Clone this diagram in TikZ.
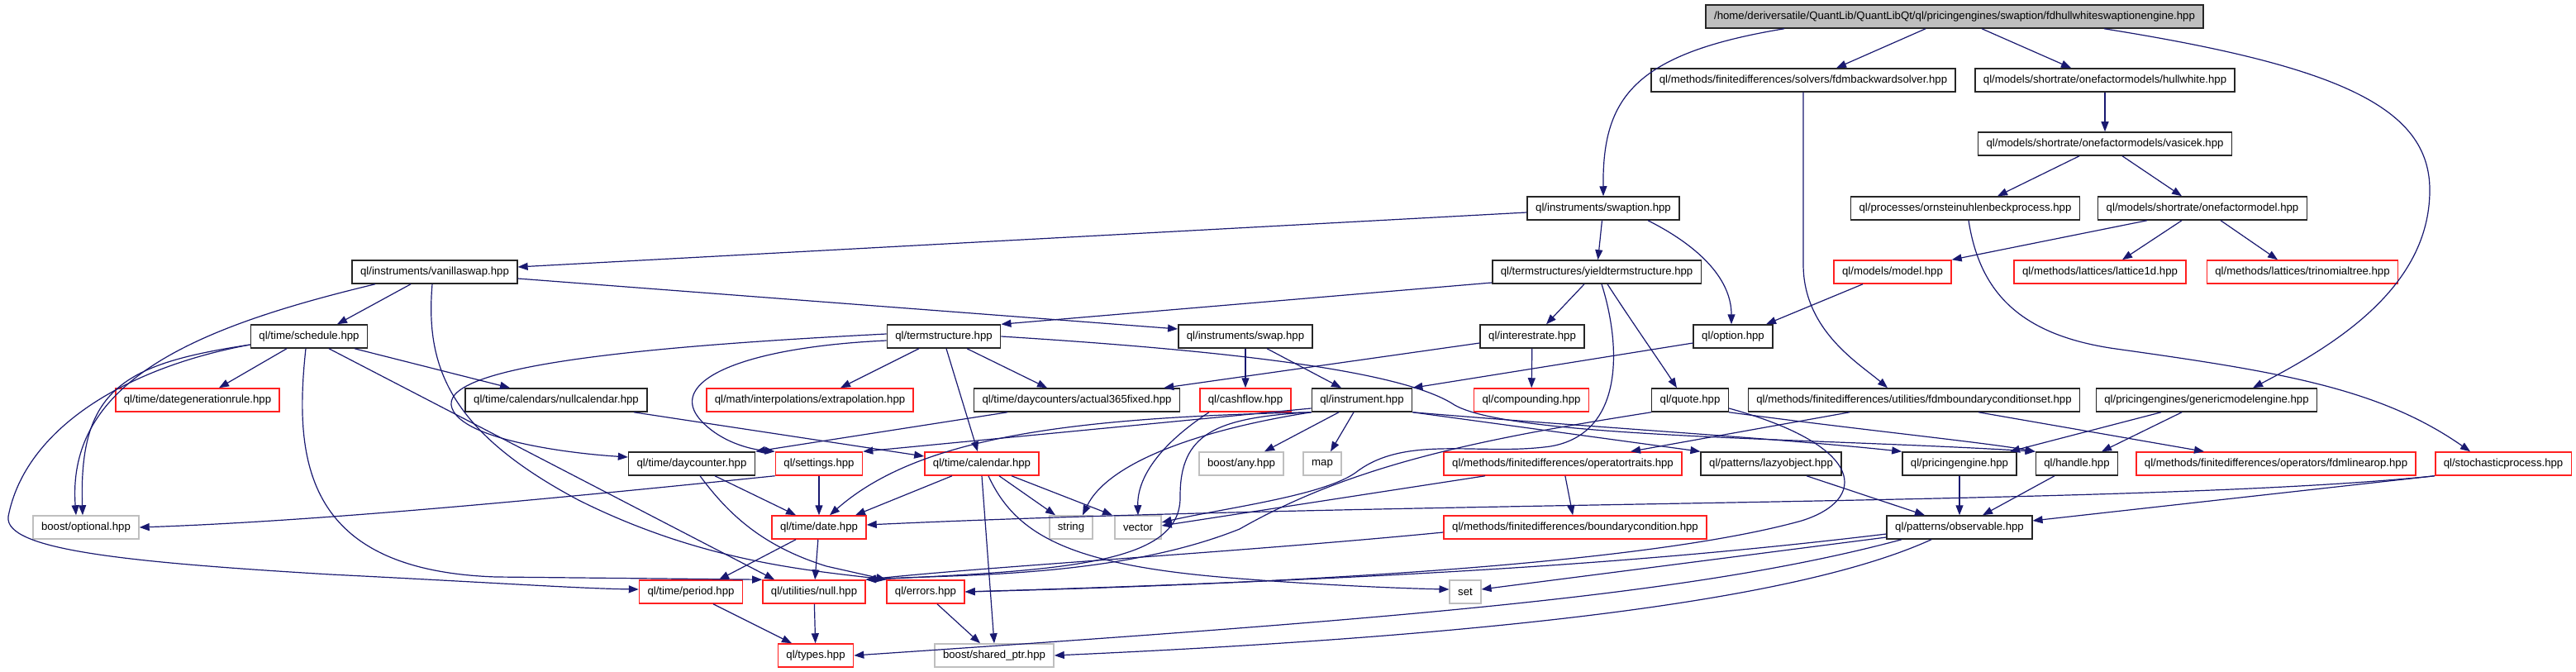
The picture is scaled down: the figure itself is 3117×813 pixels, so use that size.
\documentclass[tikz,border=0pt]{standalone}
\usepackage{fontspec}
\setmainfont{Liberation Sans}
\usepackage{xcolor}
\usetikzlibrary{arrows.meta}
\definecolor{edgeblue}{HTML}{191970}
\definecolor{missred}{HTML}{FF2020}
\definecolor{sysgray}{HTML}{BFBFBF}
\definecolor{rootgray}{HTML}{BFBFBF}

\begin{document}
\begin{tikzpicture}[
        x=1pt, y=-1pt,
        file/.style={rectangle, draw=black!85, line width=1.5pt, fill=white, text=black,
                     inner xsep=10pt, inner ysep=0pt, minimum height=28pt,
                     font=\fontsize{13.2}{15}\selectfont},
        redfile/.style={file, draw=missred},
        sysfile/.style={file, draw=sysgray},
        rootfile/.style={file, fill=rootgray},
        incl/.style={-{Triangle[length=12pt, width=9pt]}, line width=1.2pt, edgeblue}
      ]
        \useasboundingbox (0,0) rectangle (3117,813);

        % rows of files, top to bottom
        \node[rootfile] (root) at (2365,20) {/home/deriversatile/QuantLib/QuantLibQt/ql/pricingengines/swaption/fdhullwhiteswaptionengine.hpp};

        \node[file] (fdmbs) at (2182,97) {ql/methods/finitedifferences/solvers/fdmbackwardsolver.hpp};
        \node[file] (hullwhite) at (2547,97) {ql/models/shortrate/onefactormodels/hullwhite.hpp};

        \node[file] (vasicek) at (2547,174) {ql/models/shortrate/onefactormodels/vasicek.hpp};

        \node[file] (swaption) at (1940,252) {ql/instruments/swaption.hpp};
        \node[file] (ornstein) at (2378,252) {ql/processes/ornsteinuhlenbeckprocess.hpp};
        \node[file] (ofm) at (2665,252) {ql/models/shortrate/onefactormodel.hpp};

        \node[file] (vanillaswap) at (526,329) {ql/instruments/vanillaswap.hpp};
        \node[file] (yts) at (1932,329) {ql/termstructures/yieldtermstructure.hpp};
        \node[redfile] (model) at (2290,329) {ql/models/model.hpp};
        \node[redfile] (lattice) at (2541,329) {ql/methods/lattices/lattice1d.hpp};
        \node[redfile] (trinomial) at (2786,329) {ql/methods/lattices/trinomialtree.hpp};

        \node[file] (schedule) at (374,407) {ql/time/schedule.hpp};
        \node[file] (termstr) at (1142,407) {ql/termstructure.hpp};
        \node[file] (swap) at (1507,407) {ql/instruments/swap.hpp};
        \node[file] (interest) at (1854,407) {ql/interestrate.hpp};
        \node[file] (option) at (2097,407) {ql/option.hpp};

        \node[redfile] (dgr) at (239,484) {ql/time/dategenerationrule.hpp};
        \node[file] (nullcal) at (673,484) {ql/time/calendars/nullcalendar.hpp};
        \node[redfile] (extrap) at (980,484) {ql/math/interpolations/extrapolation.hpp};
        \node[file] (act365) at (1303,484) {ql/time/daycounters/actual365fixed.hpp};
        \node[redfile] (cashflow) at (1507,484) {ql/cashflow.hpp};
        \node[file] (instrument) at (1648,484) {ql/instrument.hpp};
        \node[redfile] (compounding) at (1853,484) {ql/compounding.hpp};
        \node[file] (quote) at (2045,484) {ql/quote.hpp};
        \node[file] (fdmbcs) at (2316,484) {ql/methods/finitedifferences/utilities/fdmboundaryconditionset.hpp};
        \node[file] (gme) at (2670,484) {ql/pricingengines/genericmodelengine.hpp};

        \node[file] (daycounter) at (837,561) {ql/time/daycounter.hpp};
        \node[redfile] (settings) at (991,561) {ql/settings.hpp};
        \node[redfile] (calendar) at (1188,561) {ql/time/calendar.hpp};
        \node[sysfile] (boostany) at (1502,561) {boost/any.hpp};
        \node[sysfile] (map) at (1600,561) {map};
        \node[redfile] (optraits) at (1891,561) {ql/methods/finitedifferences/operatortraits.hpp};
        \node[file] (lazy) at (2143,561) {ql/patterns/lazyobject.hpp};
        \node[file] (pengine) at (2371,561) {ql/pricingengine.hpp};
        \node[file] (handle) at (2513,561) {ql/handle.hpp};
        \node[redfile] (fdmlinop) at (2754,561) {ql/methods/finitedifferences/operators/fdmlinearop.hpp};
        \node[redfile] (stochproc) at (3029,561) {ql/stochasticprocess.hpp};

        \node[sysfile] (boostopt) at (104,638) {boost/optional.hpp};
        \node[redfile] (date) at (991,638) {ql/time/date.hpp};
        \node[sysfile] (string) at (1296,638) {string};
        \node[sysfile] (vector) at (1377,638) {vector};
        \node[redfile] (bcond) at (1906,638) {ql/methods/finitedifferences/boundarycondition.hpp};
        \node[file] (observable) at (2371,638) {ql/patterns/observable.hpp};

        \node[redfile] (period) at (836,716) {ql/time/period.hpp};
        \node[redfile] (null) at (985,716) {ql/utilities/null.hpp};
        \node[redfile] (errors) at (1120,716) {ql/errors.hpp};
        \node[sysfile] (set) at (1773,716) {set};

        \node[redfile] (types) at (987,793) {ql/types.hpp};
        \node[sysfile] (sharedptr) at (1203,793) {boost/shared\_ptr.hpp};

        % includes of the engine and the models
        \draw[incl] ([xshift=-206pt]root.south) .. controls (1975,65) and (1939,120) .. (swaption.north);
        \draw[incl] ([xshift=-35pt]root.south) -- ([xshift=40pt]fdmbs.north);
        \draw[incl] ([xshift=33pt]root.south) -- ([xshift=-41pt]hullwhite.north);
        \draw[incl] ([xshift=181pt]root.south) .. controls (2830,80) and (2940,130) .. (2940,230)
                    .. controls (2940,350) and (2820,420) .. ([xshift=56pt]gme.north);
        \draw[incl] (fdmbs.south) -- (2182,320) .. controls (2182,400) and (2250,440) .. ([xshift=-32pt]fdmbcs.north);
        \draw[incl] (hullwhite) -- (vasicek);
        \draw[incl] ([xshift=-31pt]vasicek.south) -- ([xshift=39pt]ornstein.north);
        \draw[incl] ([xshift=21pt]vasicek.south) -- ([xshift=-25pt]ofm.north);
        \draw[incl] ([xshift=4pt]ornstein.south) .. controls (2395,350) and (2440,405) .. (2560,422)
                    .. controls (2760,450) and (2880,470) .. ([xshift=-40pt]stochproc.north);
        \draw[incl] ([xshift=-67pt]ofm.south) -- (model.north east);
        \draw[incl] ([xshift=-25pt]ofm.south) -- ([xshift=27pt]lattice.north);
        \draw[incl] ([xshift=22pt]ofm.south) -- ([xshift=-30pt]trinomial.north);
        \draw[incl] ([xshift=-36pt]model.south) -- ([xshift=40pt]option.north);

        % instruments and term structures
        \draw[incl] ([yshift=-5pt]swaption.west) -- ([yshift=6pt]vanillaswap.east);
        \draw[incl] (swaption) -- (yts);
        \draw[incl] ([xshift=54pt]swaption.south) .. controls (2060,300) and (2095,340) .. ([xshift=-2pt]option.north);
        \draw[incl] ([yshift=-13pt]yts.west) -- (termstr.north east);
        \draw[incl] ([xshift=-15pt]yts.south) -- ([xshift=17pt]interest.north);
        \draw[incl] ([xshift=13pt]yts.south) .. controls (1975,390) and (2010,440) .. ([xshift=-16pt]quote.north);
        \draw[incl] ([xshift=6pt]yts.south) .. controls (1962,420) and (1965,525) .. (1876,540)
                    .. controls (1790,552) and (1700,525) .. (1640,572)
                    .. controls (1600,600) and (1480,615) .. ([yshift=6pt]vector.east);
        \draw[incl] ([xshift=-29pt]vanillaswap.south) -- ([xshift=34pt]schedule.north);
        \draw[incl] ([xshift=-72pt]vanillaswap.south) .. controls (240,395) and (80,460) .. ([xshift=-12pt]boostopt.north);
        \draw[incl] ([yshift=-8pt]vanillaswap.east) -- ([yshift=9pt]swap.west);
        \draw[incl] ([xshift=-3pt]vanillaswap.south) .. controls (515,440) and (540,520) .. (700,605)
                    .. controls (850,680) and (980,690) .. (errors.north west);

        % schedule and calendars
        \draw[incl] ([xshift=-27pt]schedule.south) -- ([xshift=26pt]dgr.north);
        \draw[incl] ([xshift=55pt]schedule.south) -- ([xshift=-56pt]nullcal.north);
        \draw[incl] ([yshift=-10pt]schedule.west) .. controls (150,440) and (95,470) .. ([xshift=-4pt]boostopt.north);
        \draw[incl] ([yshift=-10pt]schedule.west) .. controls (150,445) and (30,520) .. (10,625)
                    .. controls (5,665) and (150,680) .. (400,695)
                    .. controls (600,705) and (700,712) .. ([yshift=3pt]period.west);
        \draw[incl] ([xshift=-4pt]schedule.south) .. controls (355,560) and (370,690) .. (600,698)
                    -- (null.north west);
        \draw[incl] ([xshift=24pt]schedule.south) -- ([xshift=15pt]null.north west);
        \draw[incl] ([xshift=94pt]nullcal.south) -- ([yshift=9pt]calendar.west);

        % term structure
        \draw[incl] ([yshift=3pt]termstr.west) .. controls (800,418) and (540,440) .. (546,490)
                    .. controls (552,530) and (680,548) .. ([yshift=8pt]daycounter.west);
        \draw[incl] ([yshift=-5pt]termstr.west) .. controls (900,420) and (810,460) .. (845,505)
                    .. controls (865,530) and (900,543) .. (settings.north west);
        \draw[incl] ([xshift=-30pt]termstr.south) -- ([xshift=37pt]extrap.north);
        \draw[incl] ([xshift=3pt]termstr.south) -- ([xshift=-5pt]calendar.north);
        \draw[incl] ([xshift=28pt]termstr.south) -- ([xshift=-36pt]act365.north);
        \draw[incl] (termstr.east) .. controls (1500,425) and (1700,450) .. (1760,490)
                    .. controls (1830,530) and (2200,530) .. (handle.north west);
        \draw[incl] ([yshift=-8pt]interest.west) -- ([xshift=-20pt]act365.north east);
        \draw[incl] (interest) -- (compounding);

        % swap, instrument, option
        \draw[incl] (swap) -- (cashflow);
        \draw[incl] ([xshift=26pt]swap.south) -- ([xshift=-25pt]instrument.north);
        \draw[incl] ([yshift=-8pt]option.west) -- (instrument.north east);
        \draw[incl] ([xshift=-28pt]instrument.south) -- ([xshift=28pt]boostany.north);
        \draw[incl] ([xshift=-10pt]instrument.south) -- ([xshift=10pt]map.north);
        \draw[incl] (instrument.south east) -- (lazy.north west);
        \draw[incl] (instrument.south east) .. controls (1900,515) and (2150,530) .. (pengine.north west);
        \draw[incl] ([yshift=-10pt]instrument.west) -- (settings.north east);
        \draw[incl] (instrument.south west) .. controls (1450,520) and (1340,560) .. ([xshift=14pt]string.north);
        \draw[incl] (instrument.south west) .. controls (1290,505) and (1110,530) .. ([xshift=13pt]date.north);
        \draw[incl] (instrument.south west) .. controls (1470,505) and (1428,525) .. (1428,600)
                    .. controls (1430,680) and (1300,690) .. (null.north east);
        \draw[incl] ([xshift=-44pt]cashflow.south) .. controls (1400,540) and (1376,580) .. (vector.north);

        % quote and finite differences
        \draw[incl] (quote.south east) .. controls (2250,520) and (2400,535) .. (handle.north west);
        \draw[incl] (quote.south west) .. controls (1800,530) and (1640,560) .. (1500,640)
                    .. controls (1350,700) and (1150,695) .. (null.north east);
        \draw[incl] ([yshift=-10pt]quote.east) .. controls (2260,540) and (2260,605) .. (2180,630)
                    .. controls (2000,680) and (1600,705) .. (errors.east);
        \draw[incl] ([xshift=-78pt]fdmbcs.south) -- ([xshift=82pt]optraits.north);
        \draw[incl] ([xshift=78pt]fdmbcs.south) -- ([xshift=-87pt]fdmlinop.north);
        \draw[incl] ([xshift=-55pt]gme.south) -- ([xshift=61pt]pengine.north);
        \draw[incl] ([xshift=-30pt]gme.south) -- ([xshift=30pt]handle.north);
        \draw[incl] (optraits) -- (bcond);
        \draw[incl] ([xshift=-94pt]optraits.south) -- ([yshift=2pt]vector.east);
        \draw[incl] ([yshift=-6pt]bcond.west) .. controls (1500,668) and (1200,685) .. (null.north east);

        % time
        \draw[incl] ([xshift=-84pt]act365.south) -- (daycounter.north east);
        \draw[incl] ([xshift=28pt]daycounter.south) -- ([xshift=-28pt]date.north);
        \draw[incl] ([xshift=10pt]daycounter.south) .. controls (880,620) and (920,660) .. (1000,685)
                    -- (errors.north west);
        \draw[incl] (settings) -- (date);
        \draw[incl] (settings.south west) .. controls (700,600) and (400,630) .. (boostopt.east);
        \draw[incl] ([xshift=-36pt]calendar.south) -- ([xshift=44pt]date.north);
        \draw[incl] ([xshift=21pt]calendar.south) -- ([xshift=-19pt]string.north);
        \draw[incl] ([xshift=36pt]calendar.south) -- ([xshift=-31pt]vector.north);
        \draw[incl] (calendar.south) -- (sharedptr.north);
        \draw[incl] ([xshift=8pt]calendar.south) .. controls (1230,650) and (1300,685) .. (1500,700)
                    .. controls (1600,708) and (1700,712) .. ([yshift=3pt]set.west);
        \draw[incl] ([xshift=-28pt]date.south) -- ([xshift=34pt]period.north);
        \draw[incl] (date) -- (null);
        \draw[incl] ([xshift=27pt]period.south) -- ([xshift=-29pt]types.north);
        \draw[incl] (null) -- (types);
        \draw[incl] ([xshift=14pt]errors.south) -- ([xshift=-17pt]sharedptr.north);

        % observers
        \draw[incl] (stochproc.south west) .. controls (2600,612) and (1700,605) .. ([yshift=3pt]date.east);
        \draw[incl] (stochproc.south west) -- ([yshift=8pt]observable.east);
        \draw[incl] ([xshift=43pt]lazy.south) -- ([xshift=-42pt]observable.north);
        \draw[incl] (pengine) -- (observable);
        \draw[incl] ([xshift=-27pt]handle.south) -- ([xshift=28pt]observable.north);
        \draw[incl] ([yshift=-12pt]observable.west) -- ([yshift=3pt]set.east);
        \draw[incl] ([yshift=-8pt]observable.west) .. controls (2000,680) and (1700,700) .. (errors.east);
        \draw[incl] ([xshift=-70pt]observable.south) .. controls (2050,720) and (1700,748) .. (types.east);
        \draw[incl] ([xshift=-34pt]observable.south) .. controls (2200,715) and (1900,765) .. (sharedptr.east);
      \end{tikzpicture}
\end{document}
